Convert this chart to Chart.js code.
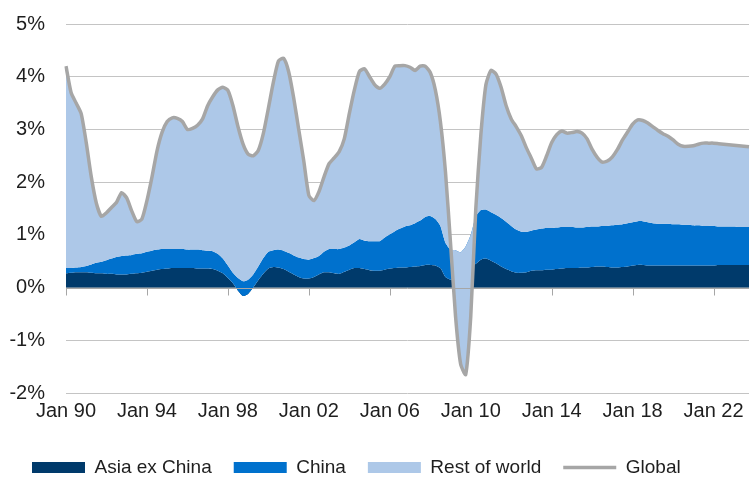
<!DOCTYPE html>
<html>
<head>
<meta charset="utf-8">
<script src="https://cdn.jsdelivr.net/npm/chart.js@4.4.0/dist/chart.umd.min.js"></script>
<style>
  html, body { margin: 0; padding: 0; background: #fff; }
</style>
</head>
<body>
<canvas id="contrib_canvas" width="755" height="477"></canvas>
<script>
// quarterly, Jan 90 .. Oct 23 (percentage points)
var tickLabels = ['Jan 90', 'Jan 94', 'Jan 98', 'Jan 02', 'Jan 06', 'Jan 10', 'Jan 14', 'Jan 18', 'Jan 22'];

var asiaExChina = [
  .27, .28, .29, .29, .29, .28, .27, .27,
  .26, .26, .25, .25, .25, .26, .27, .28,
  .30, .32, .34, .35, .36, .37, .37, .37,
  .37, .37, .36, .36, .36, .35, .32, .27,
  .18, .08, -.06, -.16, -.12, .00, .14, .26,
  .36, .39, .38, .35, .30, .25, .20, .17,
  .17, .20, .25, .29, .29, .27, .26, .30,
  .34, .37, .37, .35, .33, .32, .32, .34,
  .36, .37, .38, .38, .39, .40, .41, .43,
  .43, .42, .37, .20, .15, .15, .15, .25,
  .38, .45, .53, .55, .51, .46, .40, .35,
  .31, .28, .28, .29, .32, .33, .33, .34,
  .34, .35, .36, .37, .37, .37, .38, .38,
  .39, .40, .40, .39, .38, .38, .39, .40,
  .42, .43, .43, .42, .42, .42, .42, .42,
  .42, .42, .42, .42, .42, .42, .42, .42,
  .42, .43, .43, .43, .43, .43, .43, .43
];

var china = [
  .10, .09, .09, .10, .12, .16, .20, .22,
  .26, .29, .33, .35, .36, .36, .37, .37,
  .38, .38, .38, .38, .37, .36, .36, .36,
  .35, .35, .36, .35, .34, .34, .32, .28,
  .24, .20, .24, .28, .27, .25, .26, .30,
  .32, .32, .34, .35, .36, .36, .37, .37,
  .36, .36, .35, .39, .44, .46, .47, .46,
  .46, .49, .55, .54, .55, .56, .56, .61,
  .65, .70, .74, .78, .79, .82, .86, .91,
  .93, .88, .80, .65, .57, .56, .52, .53,
  .62, .90, .94, .93, .92, .92, .92, .90,
  .86, .82, .78, .77, .76, .77, .79, .79,
  .79, .79, .79, .78, .78, .77, .76, .77,
  .77, .76, .77, .78, .80, .81, .81, .82,
  .82, .83, .83, .82, .80, .79, .79, .79,
  .78, .78, .77, .77, .76, .76, .75, .75,
  .75, .73, .73, .73, .73, .72, .72, .72
];

var restOfWorld = [
  3.83, 3.33, 3.12, 2.91, 2.34, 1.66, 1.13, 0.86,
  0.90, 0.97, 1.04, 1.20, 1.09, 0.83, 0.61, 0.65,
  0.97, 1.40, 1.88, 2.22, 2.42, 2.49, 2.48, 2.42,
  2.28, 2.30, 2.36, 2.49, 2.75, 2.93, 3.11, 3.25,
  3.32, 3.17, 2.87, 2.60, 2.38, 2.25, 2.20, 2.36,
  2.72, 3.19, 3.58, 3.65, 3.44, 2.99, 2.43, 1.86,
  1.22, 1.09, 1.22, 1.42, 1.62, 1.73, 1.85, 2.06,
  2.50, 2.89, 3.18, 3.26, 3.12, 2.97, 2.90, 2.91,
  2.99, 3.13, 3.09, 3.05, 3.00, 2.90, 2.93, 2.86,
  2.72, 2.45, 1.98, 1.35, 0.13, -1.26, -2.12, -2.43,
  -1.55, 0.15, 1.43, 2.37, 2.69, 2.67, 2.48, 2.20,
  2.03, 1.95, 1.82, 1.59, 1.37, 1.15, 1.16, 1.37,
  1.62, 1.76, 1.82, 1.78, 1.79, 1.82, 1.79, 1.67,
  1.46, 1.31, 1.21, 1.23, 1.30, 1.43, 1.60, 1.73,
  1.86, 1.92, 1.91, 1.88, 1.83, 1.77, 1.71, 1.66,
  1.60, 1.52, 1.49, 1.49, 1.51, 1.54, 1.57, 1.57,
  1.57, 1.57, 1.56, 1.55, 1.54, 1.54, 1.53, 1.52
];

var global = [
  4.20, 3.70, 3.50, 3.30, 2.75, 2.10, 1.60, 1.35,
  1.42, 1.52, 1.62, 1.80, 1.70, 1.45, 1.25, 1.30,
  1.65, 2.10, 2.60, 2.95, 3.15, 3.22, 3.21, 3.15,
  3.00, 3.02, 3.08, 3.20, 3.45, 3.62, 3.75, 3.80,
  3.74, 3.45, 3.05, 2.72, 2.53, 2.50, 2.60, 2.92,
  3.40, 3.90, 4.30, 4.35, 4.10, 3.60, 3.00, 2.40,
  1.75, 1.65, 1.82, 2.10, 2.35, 2.46, 2.58, 2.82,
  3.30, 3.75, 4.10, 4.15, 4.00, 3.85, 3.78, 3.86,
  4.00, 4.20, 4.21, 4.21, 4.18, 4.12, 4.20, 4.20,
  4.08, 3.75, 3.15, 2.20, 0.85, -0.55, -1.45, -1.65,
  -0.55, 1.50, 2.90, 3.85, 4.12, 4.05, 3.80, 3.45,
  3.20, 3.05, 2.88, 2.65, 2.45, 2.25, 2.28, 2.50,
  2.75, 2.90, 2.97, 2.93, 2.94, 2.96, 2.93, 2.82,
  2.62, 2.47, 2.38, 2.40, 2.48, 2.62, 2.80, 2.95,
  3.10, 3.18, 3.17, 3.12, 3.05, 2.98, 2.92, 2.87,
  2.80, 2.72, 2.68, 2.68, 2.69, 2.72, 2.74, 2.74,
  2.74, 2.73, 2.72, 2.71, 2.70, 2.69, 2.68, 2.67
];

// category labels, one per quarter
var quarters = [];
var qNames = ['Jan', 'Apr', 'Jul', 'Oct'];
for (var yr = 1990; yr <= 2023; yr++) {
  for (var q = 0; q < 4; q++) {
    quarters.push(qNames[q] + ' ' + String(yr).slice(2));
  }
}

// excel style stacking: each layer filled between its running totals
var chinaTop = [];
var worldTop = [];
for (var i = 0; i < asiaExChina.length; i++) {
  chinaTop.push(asiaExChina[i] + china[i]);
  worldTop.push(asiaExChina[i] + china[i] + restOfWorld[i]);
}

var fontFamily = "'Liberation Sans', Arial, Helvetica, sans-serif";
var textColor = '#1e1e1e';

// x axis line at 0% with small tick marks, painted over the areas
var zeroAxis = {
  id: 'zeroAxis',
  afterDatasetDraw: function(chart, args) {
    if (args.index !== 2) return;
    var ctx = chart.ctx;
    var xs = chart.scales.x;
    var y0 = Math.round(chart.scales.y.getPixelForValue(0)) + 0.5;
    ctx.save();
    ctx.strokeStyle = '#A6A6A6';
    ctx.lineWidth = 1;
    ctx.beginPath();
    ctx.moveTo(chart.chartArea.left, y0);
    ctx.lineTo(chart.chartArea.right, y0);
    for (var k = 0; k < quarters.length; k++) {
      if (tickLabels.indexOf(quarters[k]) >= 0) {
        var x = Math.round(xs.getPixelForValue(k)) + 0.5;
        ctx.moveTo(x, y0);
        ctx.lineTo(x, y0 + 7);
      }
    }
    ctx.stroke();
    ctx.restore();
  }
};

// pull the legend closer to the bottom edge
var legendFit = {
  id: 'legendFit',
  beforeLayout: function(chart) {
    var lg = chart.legend;
    if (lg && !lg._fitPatched) {
      var fit = lg.fit;
      lg.fit = function() {
        fit.call(this);
        this.height -= 10;
      };
      lg._fitPatched = true;
    }
  }
};

var chartdata = {
  labels: quarters,
  datasets: [
    {
      label: 'Asia ex China',
      data: asiaExChina,
      backgroundColor: '#003A6B',
      borderColor: 'rgba(0,0,0,0)',
      borderWidth: 0,
      fill: 'origin',
      pointRadius: 0,
      pointStyle: 'rect',
      tension: 0.2,
      order: 3
    },
    {
      label: 'China',
      data: chinaTop,
      backgroundColor: '#0071CD',
      borderColor: 'rgba(0,0,0,0)',
      borderWidth: 0,
      fill: '-1',
      pointRadius: 0,
      pointStyle: 'rect',
      tension: 0.2,
      order: 2
    },
    {
      label: 'Rest of world',
      data: worldTop,
      backgroundColor: '#ADC8E8',
      borderColor: 'rgba(0,0,0,0)',
      borderWidth: 0,
      fill: '-1',
      pointRadius: 0,
      pointStyle: 'rect',
      tension: 0.2,
      order: 1
    },
    {
      label: 'Global',
      data: global,
      borderColor: '#A6A6A6',
      backgroundColor: '#A6A6A6',
      borderWidth: 3.5,
      fill: false,
      pointRadius: 0,
      pointStyle: 'line',
      tension: 0.2,
      order: 0
    }
  ]
};

var options = {
  responsive: false,
  animation: false,
  layout: { padding: { top: 0, left: 10, right: 3, bottom: 0 } },
  plugins: {
    tooltip: { enabled: false },
    legend: {
      display: true,
      position: 'bottom',
      align: 'start',
      labels: {
        usePointStyle: true,
        pointStyleWidth: 53,
        boxHeight: 11,
        padding: 22,
        color: textColor,
        font: { family: fontFamily, size: 19 },
        sort: function(a, b) { return a.datasetIndex - b.datasetIndex; }
      }
    }
  },
  scales: {
    x: {
      grid: { display: false, drawTicks: false },
      border: { display: false },
      ticks: {
        autoSkip: false,
        maxRotation: 0,
        minRotation: 0,
        padding: 6,
        color: textColor,
        font: { family: fontFamily, size: 20 },
        callback: function(value) {
          var l = this.getLabelForValue(value);
          return tickLabels.indexOf(l) >= 0 ? l : '';
        }
      },
      afterFit: function(scale) { scale.height += 7; }
    },
    y: {
      min: -2,
      max: 5,
      grid: { color: '#C4C4C4', lineWidth: 1, drawTicks: false },
      border: { display: false },
      ticks: {
        stepSize: 1,
        padding: 21,
        color: textColor,
        font: { family: fontFamily, size: 20 },
        callback: function(v) { return v + '%'; }
      },
      afterFit: function(scale) {
        scale.width = 56;
        scale.paddingTop = 24;
        scale.paddingBottom = 0;
      }
    }
  }
};

var ctx1 = document.getElementById('contrib_canvas');
var chart = new Chart(ctx1, {
  type: 'line',
  data: chartdata,
  options: options,
  plugins: [zeroAxis, legendFit]
});
</script>
</body>
</html>
